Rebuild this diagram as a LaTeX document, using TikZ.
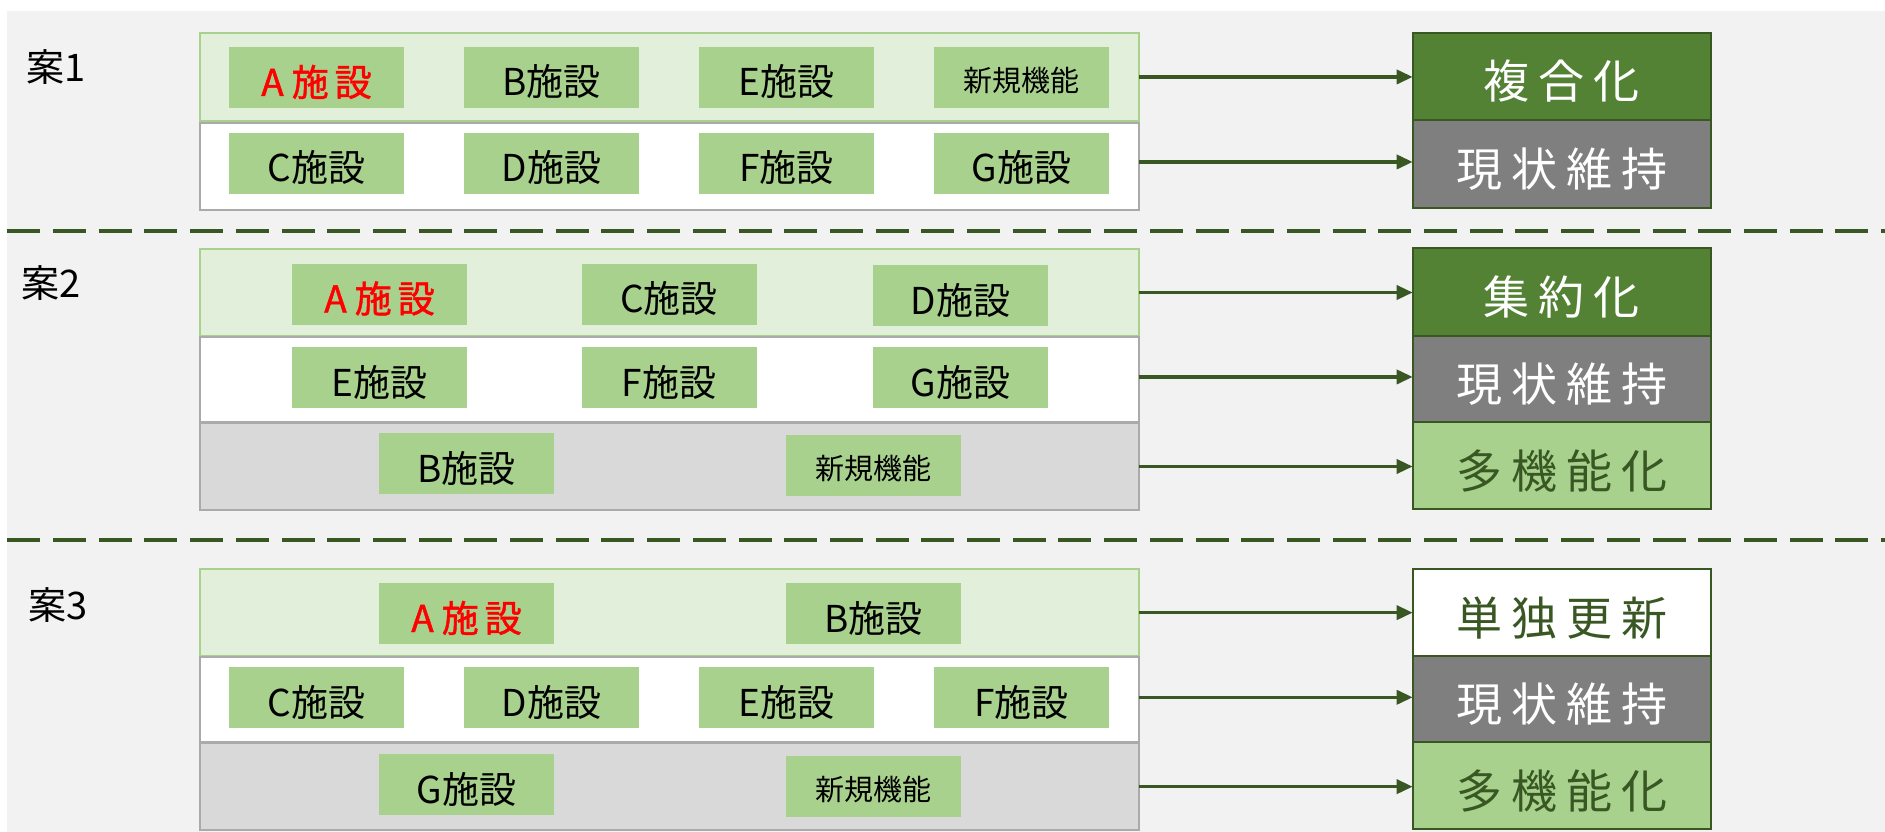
\documentclass[tikz,border=0pt]{standalone}
\usepackage{fontspec}
\setmainfont{Noto Sans CJK JP}
\newfontfamily\boldfam[FakeBold=1.2]{Noto Sans CJK JP}
\usetikzlibrary{arrows.meta}
\definecolor{bggray}{HTML}{F2F2F2}
\definecolor{facgreen}{HTML}{A9D18E}
\definecolor{bandgreen}{HTML}{E2EFDA}
\definecolor{bandgray}{HTML}{D9D9D9}
\definecolor{bordergray}{HTML}{AAAAAA}
\definecolor{darkgreen}{HTML}{385723}
\definecolor{midgreen}{HTML}{548235}
\definecolor{resgray}{HTML}{7F7F7F}
\begin{document}
\begin{tikzpicture}[x=1pt,y=-1pt,
  fac/.style={fill=facgreen, draw=none, minimum width=175pt, minimum height=61pt,
    inner sep=0pt, outer sep=0pt, anchor=north west,
    font=\fontsize{37}{40}\selectfont, text height=38pt, text depth=1pt},
  newf/.style={fac, font=\fontsize{29}{32}\selectfont, text height=29pt, text depth=1pt},
  afac/.style={fac, text=red, font=\boldfam\fontsize{37}{40}\selectfont},
  band/.style={minimum width=938.5pt, inner sep=0pt, outer sep=0pt, anchor=north west, line width=2pt},
  bandA/.style={band, fill=bandgreen, draw=facgreen},
  bandB/.style={band, fill=white, draw=bordergray},
  bandC/.style={band, fill=bandgray, draw=bordergray},
  res/.style={minimum width=298pt, inner sep=0pt, outer sep=0pt, anchor=north west,
    draw=darkgreen, line width=1.8pt, font=\fontsize{46}{50}\selectfont,
    text height=46pt, text depth=1pt},
  resA/.style={res, fill=midgreen, text=white},
  resB/.style={res, fill=resgray, text=white},
  resC/.style={res, fill=facgreen, text=darkgreen},
  resD/.style={res, fill=white, text=darkgreen},
  lab/.style={font=\fontsize{38}{42}\selectfont, anchor=center, inner sep=0pt},
  arr/.style={draw=darkgreen, line width=3.5pt, -{Triangle[length=16pt,width=14pt]}},
  sepline/.style={draw=darkgreen, line width=4pt, dash pattern=on 33pt off 12.7pt}
]
\useasboundingbox (0,0) rectangle (1885,832);
\fill[white] (0,0) rectangle (1885,832);
\fill[bggray] (7.3,11) rectangle (1885,832);

% separators
\draw[sepline] (7.3,231.3) -- (1885,231.3);
\draw[sepline] (7.3,539.5) -- (1885,539.5);

% ---------- Plan 1 ----------
\node[lab] (L1) at (56,67.5) {案1};
\node[bandA, minimum height=88.5pt] (p1a) at (200,32.7) {};
\node[bandB, minimum height=87.5pt] (p1b) at (200,122.7) {};
\node[afac] (p1A) at (229,47) {A\kern8pt 施\kern6pt 設};
\node[fac] (p1B) at (464,47) {B施設};
\node[fac] (p1E) at (699,47) {E施設};
\node[newf] (p1N) at (934,47) {新規機能};
\node[fac] (p1C) at (229,133) {C施設};
\node[fac] (p1D) at (464,133) {D施設};
\node[fac] (p1F) at (699,133) {F施設};
\node[fac] (p1G) at (934,133) {G施設};
\node[resA, minimum height=87.3pt] (r1a) at (1412.7,32.7) {複\kern9pt 合\kern9pt 化};
\node[resB, minimum height=87.7pt] (r1b) at (1412.7,120) {現\kern9pt 状\kern9pt 維\kern9pt 持};
\draw[arr] (p1a.east) -- (p1a.east -| r1a.west);
\draw[arr] ([yshift=4.5pt]p1b.east) -- ([yshift=4.5pt]p1b.east -| r1b.west);

% ---------- Plan 2 ----------
\node[lab] (L2) at (51,283) {案2};
\node[bandA, minimum height=87pt] (p2a) at (200,249) {};
\node[bandB, minimum height=85.3pt] (p2b) at (200,336.7) {};
\node[bandC, minimum height=87pt] (p2c) at (200,423) {};
\node[afac] (p2A) at (292,263.5) {A\kern8pt 施\kern6pt 設};
\node[fac] (p2C) at (581.6,263.5) {C施設};
\node[fac] (p2D) at (873,265.3) {D施設};
\node[fac] (p2E) at (292,347.3) {E施設};
\node[fac] (p2F) at (581.6,347.3) {F施設};
\node[fac] (p2G) at (873,347.3) {G施設};
\node[fac] (p2B) at (379,433.3) {B施設};
\node[newf] (p2N) at (786,435.3) {新規機能};
\node[resA, minimum height=87.7pt] (r2a) at (1412.7,248.3) {集\kern9pt 約\kern9pt 化};
\node[resB, minimum height=86pt] (r2b) at (1412.7,336) {現\kern9pt 状\kern9pt 維\kern9pt 持};
\node[resC, minimum height=87.3pt] (r2c) at (1412.7,422) {多\kern9pt 機\kern9pt 能\kern9pt 化};
\draw[arr] (p2a.east) -- (p2a.east -| r2a.west);
\draw[arr] ([yshift=2.4pt]p2b.east) -- ([yshift=2.4pt]p2b.east -| r2b.west);
\draw[arr] (p2c.east) -- (p2c.east -| r2c.west);

% ---------- Plan 3 ----------
\node[lab] (L3) at (58,605) {案3};
\node[bandA, minimum height=86.7pt] (p3a) at (200,569.3) {};
\node[bandB, minimum height=85pt] (p3b) at (200,657) {};
\node[bandC, minimum height=86.7pt] (p3c) at (200,743.3) {};
\node[afac] (p3A) at (379,583) {A\kern8pt 施\kern6pt 設};
\node[fac] (p3B) at (786,583) {B施設};
\node[fac] (p3C) at (229,667) {C施設};
\node[fac] (p3D) at (464,667) {D施設};
\node[fac] (p3E) at (699,667) {E施設};
\node[fac] (p3F) at (934,667) {F施設};
\node[fac] (p3G) at (379,754) {G施設};
\node[newf] (p3N) at (786,756) {新規機能};
\node[resD, minimum height=87.6pt] (r3a) at (1412.7,568.7) {単\kern9pt 独\kern9pt 更\kern9pt 新};
\node[resB, minimum height=85.7pt] (r3b) at (1412.7,656.3) {現\kern9pt 状\kern9pt 維\kern9pt 持};
\node[resC, minimum height=87.3pt] (r3c) at (1412.7,742) {多\kern9pt 機\kern9pt 能\kern9pt 化};
\draw[arr] (p3a.east) -- (p3a.east -| r3a.west);
\draw[arr] ([yshift=2.2pt]p3b.east) -- ([yshift=2.2pt]p3b.east -| r3b.west);
\draw[arr] (p3c.east) -- (p3c.east -| r3c.west);
\end{tikzpicture}
\end{document}
